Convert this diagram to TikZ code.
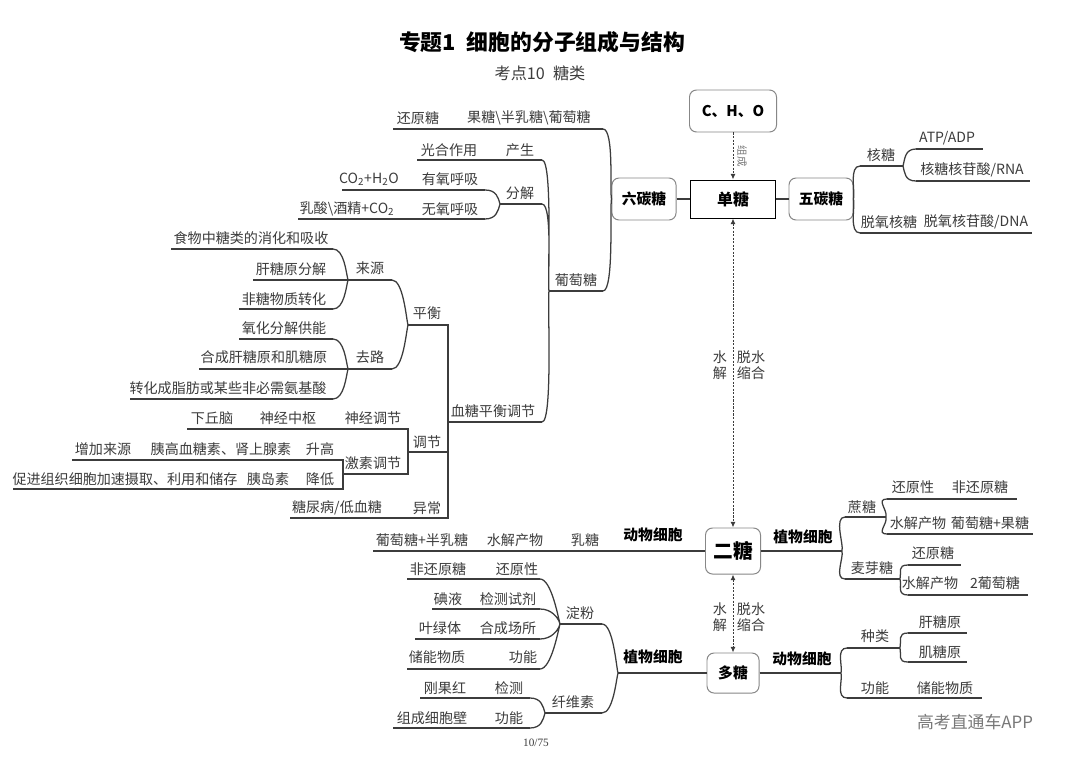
\documentclass[tikz,border=0pt]{standalone}
\usepackage{fontspec}
\setmainfont{Noto Sans CJK SC}
\newfontfamily\pagefont{Liberation Serif}
\usepackage{xcolor}
\definecolor{mapgray}{RGB}{60,60,60}
\definecolor{edgegray}{RGB}{135,135,135}
\definecolor{markgray}{RGB}{120,120,120}
\usetikzlibrary{arrows.meta}

\begin{document}
\begin{tikzpicture}[
    x=0.025cm, y=-0.025cm,
    line width=0.9pt, color=mapgray,
    >={Latex[length=4pt,width=3.5pt]},
    leaf/.style={font=\fontsize{10}{12}\selectfont, text=mapgray, inner sep=0pt},
    cell/.style={font=\fontsize{10.5}{12}\selectfont\bfseries, text=black, inner sep=0pt},
    keybox/.style={rectangle, rounded corners=5pt, draw=edgegray, line width=0.7pt, fill=white, font=\fontsize{10.5}{12}\selectfont\bfseries, text=black, minimum width=1.6cm, minimum height=1.05cm},
    link/.style={<->, line width=0.7pt, dash pattern=on 1.5pt off 1pt},
    lu/.style={out=105, in=0, out distance=5pt, in distance=8pt},
    ld/.style={out=255, in=0, out distance=5pt, in distance=8pt},
    ru/.style={out=75, in=180, out distance=5pt, in distance=8pt},
    rd/.style={out=285, in=180, out distance=5pt, in distance=8pt}
]
\useasboundingbox (0,0) rectangle (1080,763);
\fill[white] (0,0) rectangle (1080,763);

% Titles
\node[font=\fontsize{15.5}{18}\selectfont\bfseries, text=black] (title) at (542,42) {专题1\enspace 细胞的分子组成与结构};
\node[font=\fontsize{11.5}{14}\selectfont, text=mapgray] (subtitle) at (540,73) {考点10\enspace 糖类};

% Centre boxes
\node[keybox, minimum width=2.175cm] (cho) at (733,111) {C、H、O};
\node[keybox, rounded corners=0pt, draw=black, minimum width=2.125cm, minimum height=0.95cm, font=\fontsize{11.3}{13}\selectfont\bfseries] (dan) at (733,199) {单糖};
\node[keybox] (liu) at (644,199) {六碳糖};
\node[keybox] (wu) at (821,199) {五碳糖};
\node[keybox, minimum width=1.375cm, minimum height=1.15cm, font=\fontsize{14}{16}\selectfont\bfseries] (er) at (733,551) {二糖};
\node[keybox, minimum width=1.3cm, minimum height=1cm] (duo) at (733,673) {多糖};

\draw (liu) -- (dan);
\draw (dan) -- (wu);
\draw[link, ->] (cho) -- (dan);
\draw[link] (dan) -- (er);
\draw[link] (er) -- (duo);
\node[leaf, rotate=-90, font=\fontsize{7.5}{9}\selectfont, text=markgray] (zucheng) at (742,156) {组成};
\node[leaf, align=center, font=\fontsize{10}{11.4}\selectfont] (shuijie1) at (720,365) {水\\解};
\node[leaf, align=center, font=\fontsize{10}{11.4}\selectfont] (suohe1) at (751,365) {脱水\\缩合};
\node[leaf, align=center, font=\fontsize{10}{11.4}\selectfont] (shuijie2) at (720,617) {水\\解};
\node[leaf, align=center, font=\fontsize{10}{11.4}\selectfont] (suohe2) at (751,617) {脱水\\缩合};

% 五碳糖
\draw (860,166) coordinate (hetang-l) -- (903,166) coordinate (hetang-r);
\draw (916,149) coordinate (atp-l) -- (983,149) coordinate (atp-r);
\draw (916,181) coordinate (rna-l) -- (1030,181) coordinate (rna-r);
\draw (860,233) coordinate (dna-l) -- (1032,233) coordinate (dna-r);
\node[leaf] (hetang) at (881,155) {核糖};
\node[leaf] (atp) at (947,138) {ATP/ADP};
\node[leaf] (rna) at (972,170) {核糖核苷酸/RNA};
\node[leaf] (tuoyang) at (889,222) {脱氧核糖};
\node[leaf] (dna) at (976,222) {脱氧核苷酸/DNA};
\draw (wu.east) to[ru] (hetang-l) (wu.east) to[rd] (dna-l);
\draw (hetang-r) to[ru] (atp-l) (hetang-r) to[rd] (rna-l);

% 六碳糖
\draw (393,129) coordinate (hyt-l) -- (603,129) coordinate (hyt-r);
\draw (549,291) coordinate (ptt-l) -- (603,291) coordinate (ptt-r);
\node[leaf] (hyt) at (418,118) {还原糖};
\node[leaf] (gbp) at (529,118) {果糖\textbackslash 半乳糖\textbackslash 葡萄糖};
\node[leaf] (ptt) at (576,280) {葡萄糖};
\draw (liu.west) to[lu] (hyt-r) (liu.west) to[ld] (ptt-r);

% 葡萄糖
\draw (417,160) coordinate (cs-l) -- (542,160) coordinate (cs-r);
\draw (500,204) coordinate (fj-l) -- (542,204) coordinate (fj-r);
\draw (448,422) coordinate (xt-l) -- (542,422) coordinate (xt-r);
\node[leaf] (gh) at (449,150) {光合作用};
\node[leaf] (cs) at (520,150) {产生};
\node[leaf] (fj) at (520,193) {分解};
\node[leaf] (xt) at (493,411) {血糖平衡调节};
\draw (ptt-l) to[lu] (cs-r) (ptt-l) to[lu] (fj-r) (ptt-l) to[ld] (xt-r);

% 分解
\draw (342,190) coordinate (yy-l) -- (485,190) coordinate (yy-r);
\draw (298,219) coordinate (wy-l) -- (485,219) coordinate (wy-r);
\node[leaf] (co2a) at (369,179) {CO\textsubscript{2}+H\textsubscript{2}O};
\node[leaf] (yy) at (450,179) {有氧呼吸};
\node[leaf] (co2b) at (347,209) {乳酸\textbackslash 酒精+CO\textsubscript{2}};
\node[leaf] (wy) at (450,209) {无氧呼吸};
\draw (fj-l) to[lu] (yy-r) (fj-l) to[ld] (wy-r);

% 血糖平衡调节
\draw (408,325) coordinate (ph-l) -- (448,325) coordinate (ph-r) -- (448,518) coordinate (yc-r) -- (290,518) coordinate (yc-l);
\draw (408,452) coordinate (tj-l) -- (448,452) coordinate (tj-r);
\node[leaf] (ph) at (427,313) {平衡};
\node[leaf] (tj) at (427,442) {调节};
\node[leaf] (tnb) at (337,508) {糖尿病/低血糖};
\node[leaf] (yc) at (427,508) {异常};

% 平衡
\draw (348,280) coordinate (ly-l) -- (392,280) coordinate (ly-r);
\draw (348,369) coordinate (ql-l) -- (392,369) coordinate (ql-r);
\node[leaf] (ly) at (370,268) {来源};
\node[leaf] (ql) at (370,357) {去路};
\draw (ph-l) to[lu] (ly-r) (ph-l) to[ld] (ql-r);

% 来源
\draw (171,249) coordinate (sw-l) -- (333,249) coordinate (sw-r);
\draw (253,280) coordinate (gt-l) -- (ly-l);
\draw (239,309) coordinate (ft-l) -- (333,309) coordinate (ft-r);
\node[leaf] (sw) at (251,238) {食物中糖类的消化和吸收};
\node[leaf] (gt) at (291,269) {肝糖原分解};
\node[leaf] (ft) at (284,299) {非糖物质转化};
\draw (ly-l) to[lu] (sw-r) (ly-l) to[ld] (ft-r);

% 去路
\draw (239,339) coordinate (yh-l) -- (333,339) coordinate (yh-r);
\draw (199,369) coordinate (hc-l) -- (ql-l);
\draw (130,399) coordinate (zh-l) -- (333,399) coordinate (zh-r);
\node[leaf] (yh) at (284,328) {氧化分解供能};
\node[leaf] (hc) at (264,357) {合成肝糖原和肌糖原};
\node[leaf] (zh) at (228,388) {转化成脂肪或某些非必需氨基酸};
\draw (ql-l) to[lu] (yh-r) (ql-l) to[ld] (zh-r);

% 调节
\draw (187,429) coordinate (sj-l) -- (408,429) coordinate (sj-r) -- (408,474) coordinate (js-r) -- (343,474) coordinate (js-l);
\node[leaf] (xqn) at (212,418) {下丘脑};
\node[leaf] (sjzs) at (288,418) {神经中枢};
\node[leaf] (sj) at (373,418) {神经调节};
\node[leaf] (js) at (373,463) {激素调节};

% 激素调节
\draw (72,460) coordinate (sg-l) -- (343,460) coordinate (sg-r) -- (343,489) coordinate (jd-r) -- (13,489) coordinate (jd-l);
\node[leaf] (zjly) at (103,449) {增加来源};
\node[leaf] (ygx) at (221,449) {胰高血糖素、肾上腺素};
\node[leaf] (sg) at (320,449) {升高};
\node[leaf] (cjzz) at (125,479) {促进组织细胞加速摄取、利用和储存};
\node[leaf] (yds) at (268,479) {胰岛素};
\node[leaf] (jd) at (320,479) {降低};

% 二糖
\draw (373,551) coordinate (rt-l) -- (er.west);
\node[cell] (dw1) at (653,535) {动物细胞};
\node[leaf] (pbr) at (422,540) {葡萄糖+半乳糖};
\node[leaf] (cw1) at (515,540) {水解产物};
\node[leaf] (rt) at (585,540) {乳糖};

\draw (er.east) -- (842,551) coordinate (zw1-r);
\node[cell] (zw1) at (803,537) {植物细胞};
\draw (845,517) coordinate (zt-l) -- (886,517) coordinate (zt-r);
\draw (845,579) coordinate (my-l) -- (900,579) coordinate (my-r);
\node[leaf] (zt) at (862,507) {蔗糖};
\node[leaf] (my) at (872,568) {麦芽糖};
\draw (zw1-r) to[ru] (zt-l) (zw1-r) to[rd] (my-l);

\draw (887,499) coordinate (hyx-l) -- (1017,499) coordinate (hyx-r);
\draw (887,534) coordinate (cw2-l) -- (1033,534) coordinate (cw2-r);
\node[leaf] (hyx) at (913,487) {还原性};
\node[leaf] (fhyt) at (980,487) {非还原糖};
\node[leaf] (cw2) at (918,523) {水解产物};
\node[leaf] (pgt) at (990,523) {葡萄糖+果糖};
\draw (zt-r) to[ru] (hyx-l) (zt-r) to[rd] (cw2-l);

\draw (908,565) coordinate (hyt2-l) -- (961,565) coordinate (hyt2-r);
\draw (908,595) coordinate (cw3-l) -- (1028,595) coordinate (cw3-r);
\node[leaf] (hyt2) at (933,553) {还原糖};
\node[leaf] (cw3) at (930,583) {水解产物};
\node[leaf] (eptt) at (995,583) {2葡萄糖};
\draw (my-r) to[ru] (hyt2-l) (my-r) to[rd] (cw3-l);

% 多糖
\draw (duo.east) -- (841,673) coordinate (dw2-r);
\node[cell] (dw2) at (802,659) {动物细胞};
\draw (847,648) coordinate (zl-l) -- (900,648) coordinate (zl-r);
\draw (847,698) coordinate (gn1-l) -- (982,698) coordinate (gn1-r);
\node[leaf] (zl) at (875,636) {种类};
\node[leaf] (gn1) at (875,688) {功能};
\node[leaf] (cn1) at (945,688) {储能物质};
\draw (dw2-r) to[ru] (zl-l) (dw2-r) to[rd] (gn1-l);

\draw (908,633) coordinate (gty-l) -- (967,633) coordinate (gty-r);
\draw (908,662) coordinate (jty-l) -- (967,662) coordinate (jty-r);
\node[leaf] (gty) at (940,622) {肝糖原};
\node[leaf] (jty) at (940,652) {肌糖原};
\draw (zl-r) to[ru] (gty-l) (zl-r) to[rd] (jty-l);

\draw (618,673) coordinate (zw2-l) -- (duo.west);
\node[cell] (zw2) at (653,657) {植物细胞};
\draw (560,624) coordinate (df-l) -- (602,624) coordinate (df-r);
\draw (545,713) coordinate (xw-l) -- (602,713) coordinate (xw-r);
\node[leaf] (df) at (580,613) {淀粉};
\node[leaf] (xw) at (573,702) {纤维素};
\draw (zw2-l) to[lu] (df-r) (zw2-l) to[ld] (xw-r);

\draw (407,579) coordinate (hyx2-l) -- (540,579) coordinate (hyx2-r);
\draw (432,609) coordinate (jc-l) -- (540,609) coordinate (jc-r);
\draw (415,639) coordinate (hccs-l) -- (540,639) coordinate (hccs-r);
\draw (407,669) coordinate (gn2-l) -- (540,669) coordinate (gn2-r);
\node[leaf] (fhyt2) at (438,569) {非还原糖};
\node[leaf] (hyx2) at (517,569) {还原性};
\node[leaf] (dy) at (448,599) {碘液};
\node[leaf] (jcsj) at (508,599) {检测试剂};
\node[leaf] (ylt) at (440,628) {叶绿体};
\node[leaf] (hccs) at (508,628) {合成场所};
\node[leaf] (cn2) at (437,657) {储能物质};
\node[leaf] (gn2) at (523,657) {功能};
\draw (df-l) to[lu] (hyx2-r) (df-l) to[lu] (jc-r) (df-l) to[ld] (hccs-r) (df-l) to[ld] (gn2-r);

\draw (420,698) coordinate (jc2-l) -- (530,698) coordinate (jc2-r);
\draw (393,728) coordinate (gn3-l) -- (530,728) coordinate (gn3-r);
\node[leaf] (ggh) at (445,688) {刚果红};
\node[leaf] (jc2) at (509,688) {检测};
\node[leaf] (zcxb) at (432,718) {组成细胞壁};
\node[leaf] (gn3) at (509,718) {功能};
\draw (xw-l) to[lu] (jc2-r) (xw-l) to[ld] (gn3-r);

% Page and mark
\node[font=\fontsize{8}{10}\pagefont, text=mapgray] (page) at (536,743) {10/75};
\node[font=\fontsize{12}{14}\selectfont, text=markgray] (mark) at (975,722) {高考直通车APP};

\end{tikzpicture}
\end{document}
